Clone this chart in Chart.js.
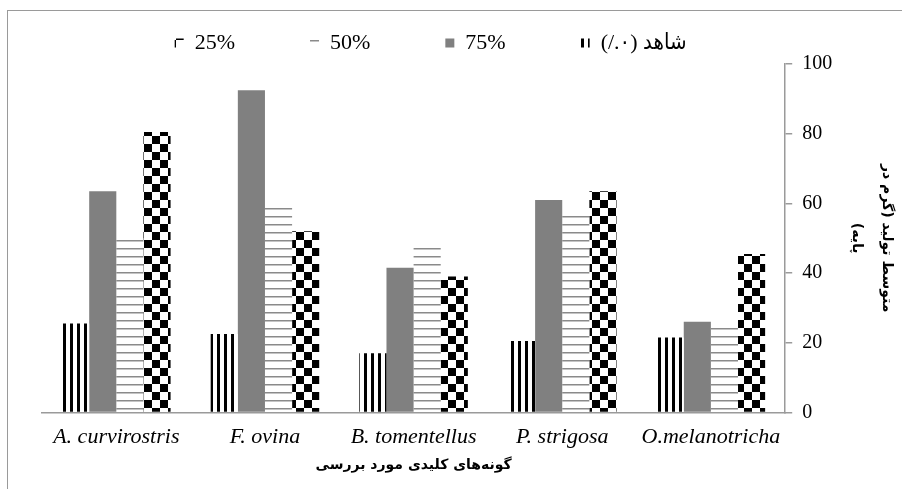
<!DOCTYPE html>
<html>
<head>
<meta charset="utf-8">
<script src="https://cdn.jsdelivr.net/npm/chart.js@4.4.1/dist/chart.umd.min.js"></script>
<style>
	html, body { margin: 0; padding: 0; background: #fff; overflow: hidden; }
	.wrap { position: relative; width: 902px; height: 489px; }
	.frame { position: absolute; left: 7px; top: 10px; width: 1000px; height: 1000px; border: 1px solid #9a9a9a; box-sizing: border-box; }
	canvas { position: absolute; left: 0; top: 0; }
</style>
</head>
<body>
<div class="wrap">
	<div class="frame"></div>
	<canvas id="chart" width="902" height="489"></canvas>
</div>
<script>
const species = ['A. curvirostris', 'F. ovina', 'B. tomentellus', 'P. strigosa', 'O.melanotricha'];
const control = [25.5, 22.5, 17, 20.5, 21.5];
const level75 = [63.5, 92.5, 41.5, 61, 26];
const level50 = [50, 59, 47.5, 57, 24.5];
const level25 = [80.5, 52, 39, 63.5, 45.5];
const yTicks = [0, 20, 40, 60, 80, 100];

const serif = "'Liberation Serif', 'Times New Roman', serif";
const arabic = "'DejaVu Sans', sans-serif";

const makePattern = (w, h, draw) => {
	const tile = document.createElement('canvas');
	tile.width = w;
	tile.height = h;
	const g = tile.getContext('2d');
	g.fillStyle = '#ffffff';
	g.fillRect(0, 0, w, h);
	draw(g);
	return g.createPattern(tile, 'repeat');
};

const stripes = makePattern(7, 7, (g) => {
	g.fillStyle = '#000';
	g.fillRect(0, 0, 3, 7);
});

const lines = makePattern(8, 8, (g) => {
	g.fillStyle = '#8a8a8a';
	g.fillRect(0, 0, 8, 1);
	g.fillStyle = '#c4c4c4';
	g.fillRect(0, 1, 8, 1);
});

const checker = makePattern(16, 16, (g) => {
	g.fillStyle = '#000';
	g.fillRect(0, 0, 8, 8);
	g.fillRect(8, 8, 8, 8);
});

// legend items are spaced evenly in the original, pad the short labels
const gap = '\u2003\u2003\u2003';

// nudge the legend row to where the original has it
const legendShift = {
	id: 'legendShift',
	afterLayout(chart) {
		chart.legend.left += 17;
		chart.legend.right += 17;
	},
};

new Chart(document.getElementById('chart'), {
	type: 'bar',
	data: {
		labels: species,
		datasets: [
			{ label: '\u200E(/.\u0660)\u200E شاهد', data: control, backgroundColor: stripes },
			{ label: '75%' + gap, data: level75, backgroundColor: '#808080' },
			{ label: '50%' + gap, data: level50, backgroundColor: lines },
			{ label: '25%' + gap, data: level25, backgroundColor: checker },
		],
	},
	plugins: [legendShift],
	options: {
		responsive: false,
		animation: false,
		devicePixelRatio: 1,
		layout: {
			padding: { top: 23, right: 0, bottom: 15, left: 42 },
		},
		datasets: {
			bar: {
				categoryPercentage: 0.73,
				barPercentage: 1,
				borderWidth: 0,
			},
		},
		plugins: {
			tooltip: { enabled: false },
			legend: {
				position: 'top',
				reverse: true,
				fullSize: false,
				labels: {
					boxWidth: 9,
					boxHeight: 9,
					padding: 9,
					color: '#000',
					font: { family: "'Liberation Serif', 'DejaVu Sans Condensed', serif", size: 22 },
				},
			},
		},
		scales: {
			x: {
				grid: { display: false, drawTicks: false },
				border: { display: true, color: '#9a9a9a', width: 1.5 },
				ticks: {
					padding: 12,
					maxRotation: 0,
					minRotation: 0,
					autoSkip: false,
					color: '#000',
					font: { family: serif, size: 22, style: 'italic' },
				},
				title: {
					display: true,
					text: 'گونه‌های کلیدی مورد بررسی',
					color: '#000',
					padding: { top: -7, bottom: 0 },
					font: { family: arabic, size: 14, weight: 'bold', lineHeight: 1.3 },
				},
			},
			y: {
				position: 'right',
				min: 0,
				max: 100,
				afterBuildTicks: (axis) => {
					axis.ticks = yTicks.map((value) => ({ value }));
				},
				grid: {
					drawOnChartArea: false,
					drawTicks: true,
					tickLength: 7,
					tickColor: '#9a9a9a',
					lineWidth: 1.5,
				},
				border: { display: true, color: '#9a9a9a', width: 1.5 },
				ticks: {
					padding: 10,
					color: '#000',
					font: { family: serif, size: 20 },
				},
				title: {
					display: true,
					text: ['متوسط تولید (گرم در', 'پایه)\u200F'],
					color: '#000',
					padding: { top: 1, bottom: 0 },
					font: { family: arabic, size: 14, weight: 'bold', lineHeight: 2.1 },
				},
			},
		},
	},
});
</script>
</body>
</html>
